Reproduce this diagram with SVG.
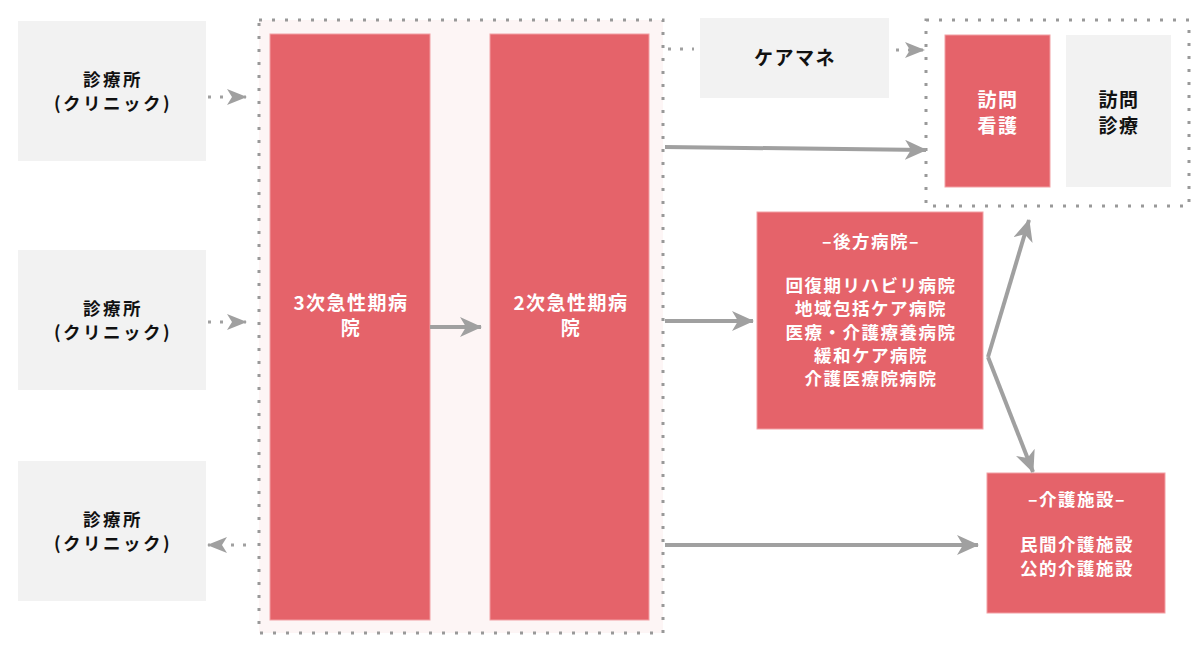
<svg xmlns="http://www.w3.org/2000/svg" width="1200" height="651" viewBox="0 0 1200 651">
<defs>
<style>
.gray{fill:#f2f2f2}
.red{fill:#e5636a;stroke:#f2a0a4;stroke-width:1}
.grp{fill:none;stroke:#999;stroke-width:3;stroke-dasharray:3 10}
.t{font-family:"Noto Sans CJK JP","Noto Sans",sans-serif;font-size:17.5px;letter-spacing:1.5px;font-weight:bold;text-anchor:middle}
.cl{letter-spacing:2.5px}
.big{font-size:19px;letter-spacing:1.5px}
.k{fill:#111}
.w{fill:#fff}
.sol{fill:none;stroke:#a0a0a0;stroke-width:4}
.dot{fill:none;stroke:#a0a0a0;stroke-width:3;stroke-dasharray:3 9}
</style>
<marker id="ah" viewBox="0 0 22 20" markerWidth="22" markerHeight="20" refX="21" refY="10" orient="auto" markerUnits="userSpaceOnUse">
<path d="M0,0 L22,10 L0,20 L6,10 Z" fill="#a0a0a0"/>
</marker>
<marker id="ahs" viewBox="0 0 20 16" markerWidth="20" markerHeight="16" refX="19" refY="8" orient="auto" markerUnits="userSpaceOnUse">
<path d="M0,0 L20,8 L0,16 L5,8 Z" fill="#a0a0a0"/>
</marker>
</defs>

<g id="acute-container">
<rect x="259" y="20" width="404" height="613" class="grp" style="fill:#fdf5f5"/>
</g>
<g id="home-container">
<rect x="926" y="20" width="263" height="186" class="grp"/>
</g>

<g id="clinic1">
<rect x="18" y="21" width="188" height="140" class="gray"/>
<text class="t k cl" x="113" y="86">診療所</text>
<text class="t k cl" x="113" y="110">(クリニック)</text>
</g>
<g id="clinic2">
<rect x="18" y="250" width="188" height="140" class="gray"/>
<text class="t k cl" x="113" y="315">診療所</text>
<text class="t k cl" x="113" y="339">(クリニック)</text>
</g>
<g id="clinic3">
<rect x="18" y="461" width="188" height="140" class="gray"/>
<text class="t k cl" x="113" y="526">診療所</text>
<text class="t k cl" x="113" y="550">(クリニック)</text>
</g>

<g id="tertiary">
<rect x="270" y="34" width="160" height="586" class="red"/>
<text class="t w big" x="351" y="310">3次急性期病</text>
<text class="t w big" x="351" y="335">院</text>
</g>
<g id="secondary">
<rect x="490" y="34" width="159" height="586" class="red"/>
<text class="t w big" x="571" y="310">2次急性期病</text>
<text class="t w big" x="571" y="335">院</text>
</g>

<g id="caremane">
<rect x="700" y="18" width="189" height="80" class="gray"/>
<text class="t k big" x="795" y="65">ケアマネ</text>
</g>
<g id="home-nursing">
<rect x="945" y="35" width="105" height="152" class="red"/>
<text class="t w big" x="998" y="107">訪問</text>
<text class="t w big" x="998" y="133">看護</text>
</g>
<g id="home-medical">
<rect x="1066" y="35" width="105" height="152" class="gray"/>
<text class="t k big" x="1119" y="107">訪問</text>
<text class="t k big" x="1119" y="133">診療</text>
</g>

<g id="rear-hospital">
<rect x="757" y="212" width="226" height="217" class="red"/>
<text class="t w" x="871" y="248">–後方病院–</text>
<text class="t w" x="871" y="292">回復期リハビリ病院</text>
<text class="t w" x="871" y="315">地域包括ケア病院</text>
<text class="t w" x="871" y="339">医療・介護療養病院</text>
<text class="t w" x="871" y="362">緩和ケア病院</text>
<text class="t w" x="871" y="385">介護医療院病院</text>
</g>
<g id="care-facility">
<rect x="987" y="473" width="178" height="140" class="red"/>
<text class="t w" x="1077" y="506">–介護施設–</text>
<text class="t w" x="1077" y="551">民間介護施設</text>
<text class="t w" x="1077" y="575">公的介護施設</text>
</g>

<g id="connectors">
<line x1="208" y1="97" x2="246" y2="97" class="dot" marker-end="url(#ahs)"/>
<line x1="208" y1="322" x2="246" y2="322" class="dot" marker-end="url(#ahs)"/>
<line x1="246" y1="545" x2="208" y2="545" class="dot" marker-end="url(#ahs)"/>
<line x1="668" y1="49" x2="694" y2="49" class="dot"/>
<line x1="896" y1="50" x2="924" y2="50" class="dot" marker-end="url(#ahs)"/>
<line x1="430" y1="327" x2="481" y2="327" class="sol" marker-end="url(#ah)"/>
<line x1="665" y1="147" x2="926" y2="150" class="sol" marker-end="url(#ah)"/>
<line x1="665" y1="321" x2="753" y2="321" class="sol" marker-end="url(#ah)"/>
<line x1="665" y1="545" x2="978" y2="545" class="sol" marker-end="url(#ah)"/>
<line x1="988" y1="357" x2="1029" y2="220" class="sol" marker-end="url(#ah)"/>
<line x1="988" y1="357" x2="1033" y2="472" class="sol" marker-end="url(#ah)"/>
</g>
</svg>
